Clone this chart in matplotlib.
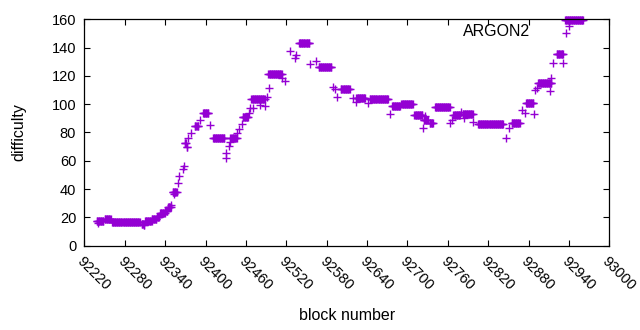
import numpy as np
import matplotlib
matplotlib.use("Agg")
import matplotlib.pyplot as plt

plt.rcParams["font.family"] = ["Liberation Sans", "DejaVu Sans"]

# difficulty per block, stored as runs of equal difficulty (first block, last block, value)
run_start = [92238, 92240, 92250, 92261, 92305, 92308, 92310, 92320, 92328, 92332, 92340, 92344,
             92349, 92351, 92353, 92359, 92361, 92366, 92368, 92369, 92372, 92374, 92379, 92384,
             92392, 92396, 92407, 92411, 92430, 92431, 92435, 92436, 92437, 92446, 92450, 92454,
             92455, 92464, 92466, 92468, 92470, 92481, 92488, 92491, 92494, 92493, 92513, 92518,
             92525, 92533, 92535, 92539, 92555, 92564, 92568, 92590, 92592, 92596, 92601, 92619,
             92623, 92624, 92642, 92644, 92674, 92677, 92691, 92710, 92723, 92724, 92726, 92733,
             92741, 92764, 92766, 92768, 92780, 92782, 92784, 92798, 92805, 92847, 92851, 92855,
             92871, 92874, 92876, 92888, 92890, 92893, 92894, 92912, 92914, 92917, 92922, 92931,
             92936, 92940, 92934]
run_end = [92248, 92240, 92259, 92302, 92307, 92309, 92320, 92327, 92331, 92339, 92343, 92348,
           92349, 92357, 92353, 92359, 92361, 92366, 92368, 92371, 92373, 92374, 92379, 92389,
           92392, 92404, 92407, 92428, 92430, 92431, 92435, 92436, 92446, 92446, 92450, 92454,
           92463, 92464, 92466, 92488, 92470, 92481, 92488, 92491, 92494, 92513, 92513, 92518,
           92525, 92533, 92535, 92554, 92555, 92564, 92587, 92590, 92592, 92596, 92614, 92619,
           92623, 92637, 92642, 92671, 92674, 92689, 92708, 92722, 92723, 92730, 92726, 92738,
           92763, 92764, 92766, 92778, 92780, 92797, 92784, 92798, 92842, 92847, 92851, 92867,
           92871, 92874, 92887, 92888, 92890, 92893, 92914, 92912, 92914, 92917, 92931, 92931,
           92936, 92940, 92961]
run_value = [17.6, 16.0, 18.7, 17.0, 15.5, 14.2, 17.2, 18.5, 20.4, 22.8, 24.4, 27.0,
             28.7, 38.1, 36.5, 44.0, 49.2, 53.9, 56.3, 72.3, 70.0, 75.9, 79.9, 84.6,
             88.8, 93.6, 85.1, 76.3, 62.2, 65.3, 70.4, 73.0, 76.3, 79.4, 82.2, 85.8,
             91.2, 93.6, 97.1, 103.5, 97.0, 99.5, 99.0, 105.4, 111.3, 121.2, 118.3, 116.5,
             137.7, 132.5, 134.9, 143.1, 128.3, 130.6, 126.2, 112.4, 111.0, 105.4, 110.6, 104.2,
             101.8, 104.2, 100.6, 103.5, 92.9, 98.8, 100.0, 92.2, 83.4, 88.8, 91.7, 86.5,
             97.8, 86.5, 88.8, 92.4, 94.7, 93.1, 90.0, 87.2, 85.8, 75.9, 83.0, 86.5,
             95.9, 94.0, 101.1, 92.9, 110.1, 111.8, 114.8, 109.4, 118.3, 129.4, 135.6, 129.0,
             150.7, 155.4, 159.6]

blocks = []
diffs = []
for s, e, v in zip(run_start, run_end, run_value):
    for b in range(s, e + 1):
        blocks.append(b)
        diffs.append(v)

xticks = list(range(92220, 93001, 60))
yticks = list(range(0, 161, 20))

fig = plt.figure(figsize=(6.4, 3.3), dpi=100)
ax = fig.add_axes([0.132, 0.256, 0.82, 0.685])
ax.plot(blocks, diffs, linestyle="none", marker="+", color="#9400d3",
        markersize=6, markeredgewidth=1.0, clip_on=False)

ax.set_xlim(92220, 93000)
ax.set_ylim(0, 160)
ax.set_xticks(xticks)
ax.set_yticks(yticks)
ax.set_xticklabels([str(t) for t in xticks], rotation=-45, ha="left", va="top",
                   rotation_mode="anchor")
ax.tick_params(direction="in", length=4.5, width=0.8, top=True, right=True,
               labelsize=10.5, pad=6)
for sp in ax.spines.values():
    sp.set_linewidth(0.9)

ax.set_xlabel("block number", fontsize=11.5, labelpad=11)
ax.set_ylabel("difficulty", fontsize=11.5, labelpad=18)

ax.text(0.85, 0.945, "ARGON2", transform=ax.transAxes, ha="right", va="center",
        fontsize=11.5)

fig.savefig("out.png", dpi=100)
